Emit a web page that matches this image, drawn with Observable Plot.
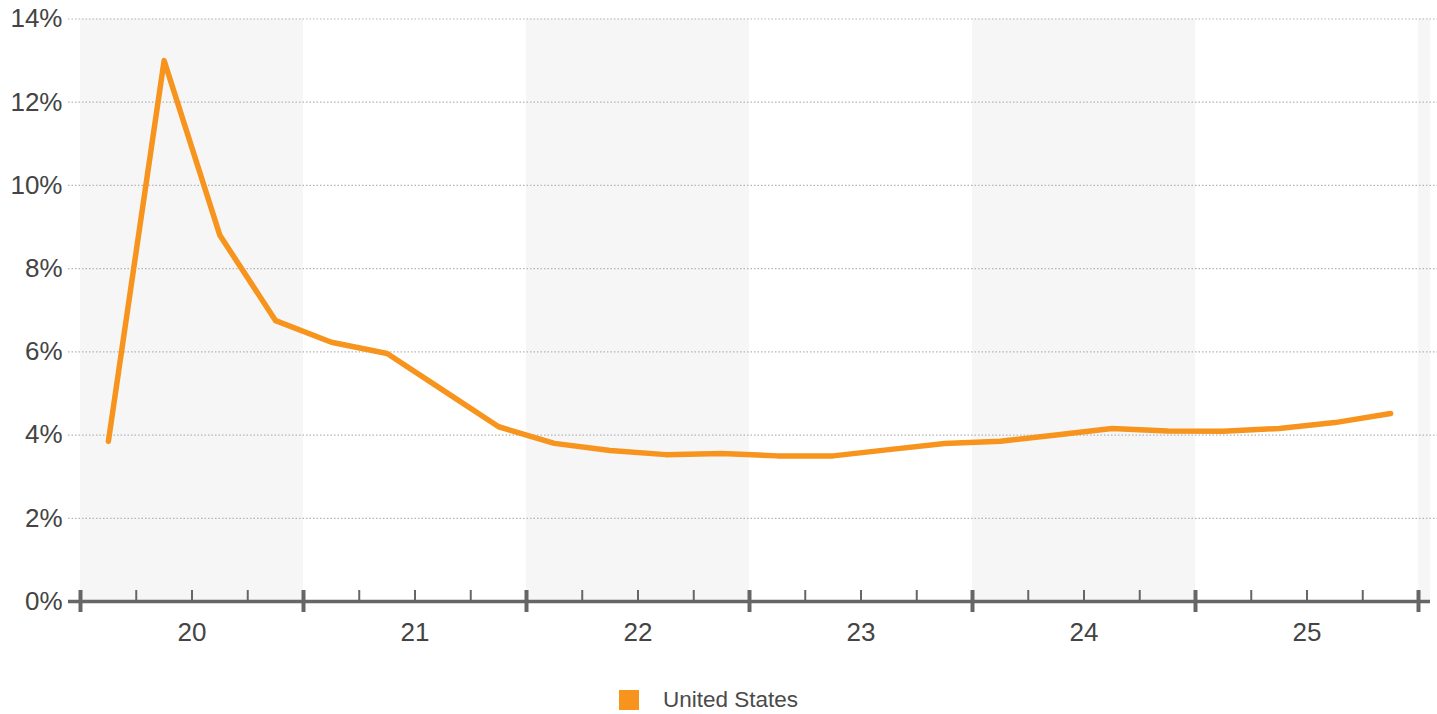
<!DOCTYPE html>
<html>
<head>
<meta charset="utf-8">
<script src="https://cdn.jsdelivr.net/npm/d3@7"></script>
<script src="https://cdn.jsdelivr.net/npm/@observablehq/plot@0.6"></script>
<style>
  html, body { margin: 0; padding: 0; background: #fff; }
  body { width: 1437px; height: 714px; overflow: hidden; font-family: "Liberation Sans", Arial, sans-serif; }
  #legend { position: relative; height: 54px; }
  #legend .sw { position: absolute; left: 619px; top: 30px; width: 20px; height: 20px; background: #f7941d; }
  #legend .lb { position: absolute; left: 663px; top: 26px; font-size: 22.5px; color: #4a4a4a; line-height: 28px; }
</style>
</head>
<body>
<div id="chart"></div>
<div id="legend"><span class="sw"></span><span class="lb">United States</span></div>
<script>
// Data
const yearLabels = ["20", "21", "22", "23", "24", "25"];
const firstYear = 2020;
const seriesName = "United States";
// quarterly values (%), 2020 Q1 .. 2025 Q4
const values = [
  3.85, 13.0, 8.8, 6.75,
  6.23, 5.96, 5.08, 4.2,
  3.8, 3.63, 3.53, 3.56,
  3.5, 3.5, 3.65, 3.8,
  3.85, 4.0, 4.16, 4.1,
  4.09, 4.16, 4.3, 4.52
];
const yTicks = [0, 2, 4, 6, 8, 10, 12, 14];

const nYears = yearLabels.length;
const data = values.map((v, i) => ({x: firstYear + Math.floor(i / 4) + ((i % 4) + 0.5) / 4, y: v}));
const yearStarts = d3.range(firstYear, firstYear + nYears + 1);
const quarterTicks = d3.range(0, nYears * 4).filter(i => i % 4 !== 0).map(i => firstYear + i / 4);
const centers = yearLabels.map((_, i) => firstYear + i + 0.5);

const W = 1437, H = 660;
const mL = 68, mR = 0;
const pxPerYear = 223;
const xDomain = [firstYear - 12 / pxPerYear, firstYear + (W - mL - 12) / pxPerYear];
const axisEnd = firstYear + nYears + 12 / pxPerYear;
const bandYears = yearStarts.filter((y, i) => i % 2 === 0);

const color = "#f7941d";
const axisColor = "#666";

const plot = Plot.plot({
  width: W,
  height: H,
  marginLeft: mL,
  marginRight: mR,
  marginTop: 18.5,
  marginBottom: 59,
  style: {fontFamily: "'Liberation Sans', Arial, sans-serif", color: "#444", background: "#fff"},
  x: {domain: xDomain, axis: null},
  y: {domain: [0, 14], axis: null},
  marks: [
    Plot.rectY(bandYears, {x1: d => d, x2: d => Math.min(d + 1, axisEnd), y1: 0, y2: 14, fill: "#f6f6f6"}),
    Plot.ruleY(yTicks.filter(d => d > 0), {x1: xDomain[0], x2: xDomain[1], stroke: "#b4b4b4", strokeWidth: 1.2, strokeDasharray: "1.5,2"}),
    Plot.axisY({ticks: yTicks, tickSize: 0, tickPadding: 6, tickFormat: d => d + "%", fontSize: 26, anchor: "left", label: null}),
    Plot.ruleY([0], {x1: xDomain[0], x2: axisEnd, stroke: axisColor, strokeWidth: 3.5}),
    Plot.ruleX(quarterTicks, {y1: 0, y2: 0, insetTop: -11, insetBottom: 0, stroke: axisColor, strokeWidth: 2}),
    Plot.ruleX(yearStarts, {y1: 0, y2: 0, insetTop: -11, insetBottom: -11, stroke: axisColor, strokeWidth: 4}),
    Plot.axisX({ticks: centers, tickSize: 0, tickPadding: 21, tickFormat: d => yearLabels[Math.round(d - firstYear - 0.5)], fontSize: 26, label: null}),
    Plot.line(data, {x: "x", y: "y", stroke: color, strokeWidth: 5.5, strokeLinejoin: "round", strokeLinecap: "round"})
  ]
});
document.getElementById("chart").appendChild(plot);
</script>
</body>
</html>
